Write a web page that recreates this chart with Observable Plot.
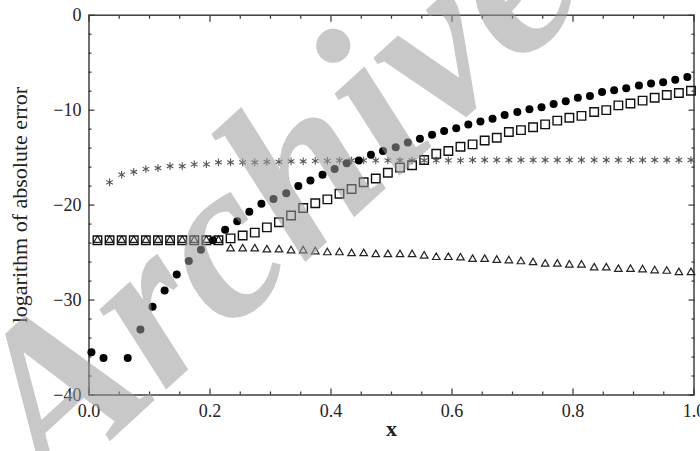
<!DOCTYPE html>
<html>
<head>
<meta charset="utf-8">
<script src="https://cdn.jsdelivr.net/npm/d3@7"></script>
<script src="https://cdn.jsdelivr.net/npm/@observablehq/plot@0.6"></script>
<style>
  body { margin: 0; background: #fff; }
  #wrap { position: relative; width: 700px; height: 451px; overflow: hidden; }
  #wm { position: absolute; left: 0; top: 0; pointer-events: none; }
  #chart svg text { font-family: 'Liberation Serif', 'Times New Roman', serif; }
</style>
</head>
<body>
<div id="wrap">
  <div id="chart"></div>
  <svg id="wm" width="700" height="451">
    <text transform="translate(51,495) rotate(-42.5)" font-family="'Liberation Serif', serif" font-weight="bold" font-style="italic" font-size="227" fill="#9b9b9b" fill-opacity="0.55">Archive of SID</text>
  </svg>
</div>
<script>
// x positions of the filled-circle series
const xCircles = [0.004,0.024,0.044,0.064,0.085,0.105,0.125,0.145,0.165,0.185,
  0.205,0.225,0.245,0.265,0.285,0.305,0.326,0.346,0.366,0.386,
  0.406,0.426,0.446,0.466,0.486,0.507,0.527,0.547,0.567,0.587,
  0.607,0.627,0.647,0.667,0.687,0.708,0.728,0.748,0.768,0.788,
  0.808,0.828,0.848,0.868,0.888,0.909,0.929,0.949,0.969,0.989];
// x positions shared by squares, triangles and asterisks
const xOthers = [0.014,0.034,0.054,0.074,0.094,0.114,0.134,0.154,0.174,0.194,
  0.214,0.234,0.254,0.274,0.294,0.314,0.334,0.354,0.374,0.394,
  0.414,0.434,0.454,0.474,0.494,0.514,0.534,0.554,0.574,0.594,
  0.614,0.634,0.654,0.674,0.694,0.714,0.734,0.754,0.774,0.794,
  0.814,0.835,0.855,0.875,0.895,0.915,0.935,0.955,0.975,0.995];

const circlesY = [-35.5,-36.1,null,-36.1,-33.1,-30.7,-29.0,-27.3,-25.9,-24.7,
  -23.7,-22.6,-21.7,-20.7,-19.85,-19.35,-18.75,-18.0,-17.4,-16.8,
  -16.2,-15.6,-15.3,-14.7,-14.3,-13.9,-13.4,-13.0,-12.6,-12.2,
  -11.9,-11.5,-11.2,-10.9,-10.5,-10.2,-9.9,-9.7,-9.35,-9.07,
  -8.7,-8.5,-8.1,-7.9,-7.7,-7.4,-7.2,-7.05,-6.8,-6.5];

const squaresY = [-23.7,-23.7,-23.7,-23.7,-23.7,-23.7,-23.7,-23.7,-23.7,-23.7,
  -23.7,-23.5,-23.2,-22.9,-22.35,-21.8,-21.1,-20.3,-19.8,-19.4,
  -18.8,-18.3,-17.6,-17.2,-16.6,-16.05,-15.8,-15.25,-14.6,-14.3,
  -13.85,-13.6,-13.2,-12.9,-12.3,-12.1,-11.8,-11.5,-11.1,-10.8,
  -10.6,-10.2,-10.0,-9.5,-9.3,-9.0,-8.7,-8.4,-8.2,-7.95];

const trianglesY = [-23.7,-23.7,-23.7,-23.7,-23.7,-23.7,-23.7,-23.7,-23.7,-23.7,
  -23.7,-24.6,-24.6,-24.6,-24.7,-24.7,-24.8,-24.8,-24.9,-25.0,
  -25.0,-25.1,-25.1,-25.2,-25.2,-25.2,-25.2,-25.35,-25.5,-25.5,
  -25.55,-25.7,-25.7,-25.8,-25.85,-25.95,-26.05,-26.2,-26.2,-26.3,
  -26.3,-26.6,-26.6,-26.75,-26.75,-26.8,-26.9,-26.95,-27.1,-27.1];

const asterisksY = [null,-17.6,-16.8,-16.5,-16.2,-16.1,-15.9,-15.9,-15.7,-15.7,
  -15.5,-15.5,-15.5,-15.5,-15.45,-15.45,-15.4,-15.4,-15.35,-15.35,
  -15.3,-15.3,-15.3,-15.3,-15.3,-15.3,-15.3,-15.3,-15.3,-15.3,
  -15.3,-15.25,-15.25,-15.25,-15.25,-15.25,-15.25,-15.25,-15.25,-15.25,
  -15.25,-15.25,-15.25,-15.25,-15.25,-15.25,-15.25,-15.25,-15.25,-15.25];

const xTicks = [0, 0.2, 0.4, 0.6, 0.8, 1.0];
const xTickLabels = ["0.0", "0.2", "0.4", "0.6", "0.8", "1.0"];
const xMinorTicks = [0.05,0.1,0.15,0.25,0.3,0.35,0.45,0.5,0.55,0.65,0.7,0.75,0.85,0.9,0.95];
const yTicks = [0, -10, -20, -30, -40];
const yTickLabels = ["0", "\u221210", "\u221220", "\u221230", "\u221240"];
const yMinorTicks = [-2,-4,-6,-8,-12,-14,-16,-18,-22,-24,-26,-28,-32,-34,-36,-38];
const xTitle = "x";
const yTitle = "logarithm of absolute error";

const toRows = (xs, ys) => xs.map((x, i) => ({x, y: ys[i]})).filter(d => d.y != null);
const circles = toRows(xCircles, circlesY);
const squares = toRows(xOthers, squaresY);
const triangles = toRows(xOthers, trianglesY);
const asterisks = toRows(xOthers, asterisksY);

const font = "'Liberation Serif', 'Times New Roman', serif";
const ink = "#333";

const chart = Plot.plot({
  width: 700,
  height: 451,
  marginLeft: 88.5,
  marginRight: 6.5,
  marginTop: 14.7,
  marginBottom: 56.5,
  style: {fontFamily: font, fontSize: "17px", color: "#222", background: "white"},
  x: {domain: [0, 1]},
  y: {domain: [-40, 0]},
  marks: [
    // inward ticks on all four sides
    Plot.axisX(xTicks, {anchor: "bottom", tickSize: -6, fill: "none", label: null, stroke: ink, strokeWidth: 1.2}),
    Plot.axisX(xMinorTicks, {anchor: "bottom", tickSize: -3, fill: "none", label: null, stroke: ink, strokeWidth: 1.2}),
    Plot.axisX(xTicks, {anchor: "top", tickSize: -6, fill: "none", label: null, stroke: ink, strokeWidth: 1.2}),
    Plot.axisX(xMinorTicks, {anchor: "top", tickSize: -3, fill: "none", label: null, stroke: ink, strokeWidth: 1.2}),
    Plot.axisY(yTicks, {anchor: "left", tickSize: -6, fill: "none", label: null, stroke: ink, strokeWidth: 1.2}),
    Plot.axisY(yMinorTicks, {anchor: "left", tickSize: -3, fill: "none", label: null, stroke: ink, strokeWidth: 1.2}),
    Plot.axisY(yTicks, {anchor: "right", tickSize: -6, fill: "none", label: null, stroke: ink, strokeWidth: 1.2}),
    Plot.axisY(yMinorTicks, {anchor: "right", tickSize: -3, fill: "none", label: null, stroke: ink, strokeWidth: 1.2}),
    // tick labels
    Plot.axisX(xTicks, {anchor: "bottom", tickSize: 0, tickPadding: 9.5, label: null,
      tickFormat: d => xTickLabels[xTicks.indexOf(d)], fontSize: 18, fontFamily: font, fill: "#222"}),
    Plot.axisY(yTicks, {anchor: "left", tickSize: 0, tickPadding: 7.5, label: null,
      tickFormat: d => yTickLabels[yTicks.indexOf(d)], fontSize: 18, fontFamily: font, fill: "#222"}),
    Plot.frame({stroke: ink, strokeWidth: 1.4}),
    // series
    Plot.dot(asterisks, {x: "x", y: "y", symbol: "asterisk", r: 3.6, stroke: "#555", strokeWidth: 1.1}),
    Plot.dot(triangles, {x: "x", y: "y", symbol: "triangle", r: 2.8, stroke: "#222", strokeWidth: 1.2, fill: "none"}),
    Plot.dot(circles, {x: "x", y: "y", r: 4, fill: "#000", stroke: "none"}),
    Plot.dot(squares, {x: "x", y: "y", symbol: "square", r: 4.8, stroke: "#111", strokeWidth: 1.4, fill: "none"}),
    // axis titles
    Plot.text([xTitle], {text: d => d, frameAnchor: "bottom", dy: 40.5, fontSize: 22, fontWeight: "bold", fontFamily: font, fill: "#222"}),
    Plot.text([yTitle], {text: d => d, frameAnchor: "left", textAnchor: "middle", dx: -69.5, rotate: -90, fontSize: 22, fontFamily: font, fill: "#222"})
  ]
});
document.getElementById("chart").appendChild(chart);
</script>
</body>
</html>
